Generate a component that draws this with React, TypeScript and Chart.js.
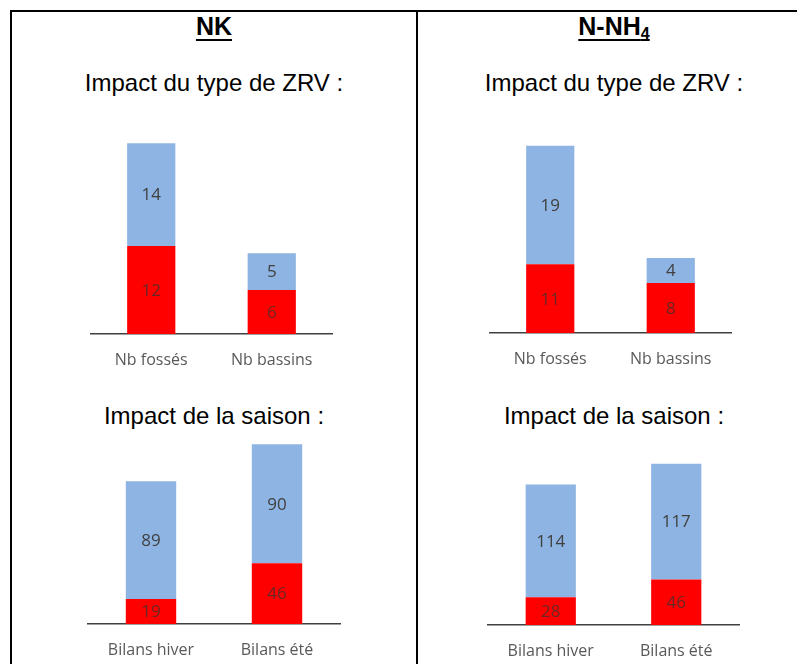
import React, { useEffect, useRef } from "react";
import { Chart, registerables } from "chart.js";

Chart.register(...registerables);

// ---- data ----
const zrvCategories = ["Nb fossés", "Nb bassins"];
const saisonCategories = ["Bilans hiver", "Bilans été"];

const nkZrvRed = [12, 6];
const nkZrvBlue = [14, 5];
const nh4ZrvRed = [11, 8];
const nh4ZrvBlue = [19, 4];
const nkSaisonRed = [19, 46];
const nkSaisonBlue = [89, 90];
const nh4SaisonRed = [28, 46];
const nh4SaisonBlue = [114, 117];

const titleLeft = "NK";
const subtitleZrv = "Impact du type de ZRV :";
const subtitleSaison = "Impact de la saison :";

const RED = "#FF0000";
const BLUE = "#8EB4E3";
const LABEL_ON_BLUE = "#404040";
const LABEL_ON_RED = "#6a2626";

const TICK_SIZE = 16;
const VALUE_SIZE = 17;
const TICK_PAD = 17;
const PAD_X = 20;

const valueLabels = {
  id: "valueLabels",
  afterDatasetsDraw(chart: any) {
    const ctx = chart.ctx;
    ctx.save();
    ctx.font = `${VALUE_SIZE}px "Open Sans"`;
    ctx.textAlign = "center";
    ctx.textBaseline = "middle";
    chart.data.datasets.forEach((ds: any, i: number) => {
      const meta = chart.getDatasetMeta(i);
      meta.data.forEach((bar: any, j: number) => {
        const { x, y, base } = bar.getProps(["x", "y", "base"], true);
        ctx.fillStyle = ds.labelColor;
        ctx.fillText(String(ds.data[j]), x, (y + base) / 2 + 1);
      });
    });
    ctx.restore();
  },
};

type PanelProps = {
  labels: string[];
  red: number[];
  blue: number[];
  axisLeft: number;
  axisRight: number;
  baseline: number;
  ppu: number;
  canvasTop: number;
};

function ChartPanel({ labels, red, blue, axisLeft, axisRight, baseline, ppu, canvasTop }: PanelProps) {
  const ref = useRef<HTMLCanvasElement>(null);
  const axisH = TICK_SIZE * 1.2 + TICK_PAD * 2;
  const width = Math.round(axisRight - axisLeft + PAD_X * 2);
  const plotH = baseline - canvasTop;
  const height = Math.ceil(plotH + axisH);

  useEffect(() => {
    if (!ref.current) return;
    const chart = new Chart(ref.current, {
      type: "bar",
      data: {
        labels,
        datasets: [
          { data: red, backgroundColor: RED, labelColor: LABEL_ON_RED } as any,
          { data: blue, backgroundColor: BLUE, labelColor: LABEL_ON_BLUE } as any,
        ],
      },
      options: {
        animation: false,
        responsive: false,
        maintainAspectRatio: false,
        devicePixelRatio: 1,
        layout: {
          padding: { left: PAD_X, right: PAD_X, top: 0, bottom: height - plotH - axisH },
        },
        plugins: { legend: { display: false }, tooltip: { enabled: false } },
        datasets: { bar: { barPercentage: 0.4, categoryPercentage: 1 } },
        scales: {
          x: {
            stacked: true,
            grid: { display: false, drawTicks: false },
            border: { display: true, color: "#404040", width: 1.5 },
            ticks: {
              color: "#595959",
              font: { family: "Open Sans", size: TICK_SIZE },
              padding: TICK_PAD,
              maxRotation: 0,
              autoSkip: false,
            },
          },
          y: { stacked: true, display: false, min: 0, max: plotH / ppu },
        },
      } as any,
      plugins: [valueLabels],
    });
    return () => chart.destroy();
  }, []);

  return (
    <canvas
      ref={ref}
      width={width}
      height={height}
      style={{ position: "absolute", left: axisLeft - PAD_X, top: canvasTop, width, height }}
    />
  );
}

function CenterText({ center, top, children, bold, underline, size }: any) {
  const fs = size || 24;
  return (
    <div
      style={{
        position: "absolute",
        left: center - 200,
        width: 400,
        top,
        textAlign: "center",
        fontFamily: '"Liberation Sans", Arial, sans-serif',
        fontSize: fs,
        lineHeight: `${fs}px`,
        fontWeight: bold ? "bold" : "normal",
        textDecoration: underline ? "underline" : "none",
        textDecorationThickness: underline ? "2px" : undefined,
        textUnderlineOffset: underline ? "4px" : undefined,
        color: "#000",
        whiteSpace: "nowrap",
      }}
    >
      {children}
    </div>
  );
}

export default function App() {
  const leftC = 214;
  const rightC = 614;
  return (
    <div
      style={{
        position: "absolute",
        left: 0,
        top: 0,
        width: 797,
        height: 664,
        overflow: "hidden",
        background: "#fff",
      }}
    >
      <div style={{ position: "absolute", left: 10, top: 10, width: 800, height: 2, background: "#000" }} />
      <div style={{ position: "absolute", left: 10, top: 10, width: 2, height: 700, background: "#000" }} />
      <div style={{ position: "absolute", left: 416, top: 10, width: 2, height: 700, background: "#000" }} />

      <CenterText center={leftC} top={14} size={25} bold underline>{titleLeft}</CenterText>
      <CenterText center={rightC} top={14} size={25} bold underline>
        N-NH<sub style={{ fontSize: 16, verticalAlign: "-4px" }}>4</sub>
      </CenterText>

      <CenterText center={leftC} top={71}>{subtitleZrv}</CenterText>
      <CenterText center={rightC} top={71}>{subtitleZrv}</CenterText>
      <CenterText center={leftC} top={404}>{subtitleSaison}</CenterText>
      <CenterText center={rightC} top={404}>{subtitleSaison}</CenterText>

      <ChartPanel labels={zrvCategories} red={nkZrvRed} blue={nkZrvBlue}
        axisLeft={91} axisRight={332} baseline={334} ppu={7.34} canvasTop={120} />
      <ChartPanel labels={zrvCategories} red={nh4ZrvRed} blue={nh4ZrvBlue}
        axisLeft={490} axisRight={731} baseline={333} ppu={6.24} canvasTop={120} />
      <ChartPanel labels={saisonCategories} red={nkSaisonRed} blue={nkSaisonBlue}
        axisLeft={88} axisRight={340} baseline={624} ppu={1.322} canvasTop={435} />
      <ChartPanel labels={saisonCategories} red={nh4SaisonRed} blue={nh4SaisonBlue}
        axisLeft={488} axisRight={739} baseline={625} ppu={0.99} canvasTop={440} />
    </div>
  );
}
